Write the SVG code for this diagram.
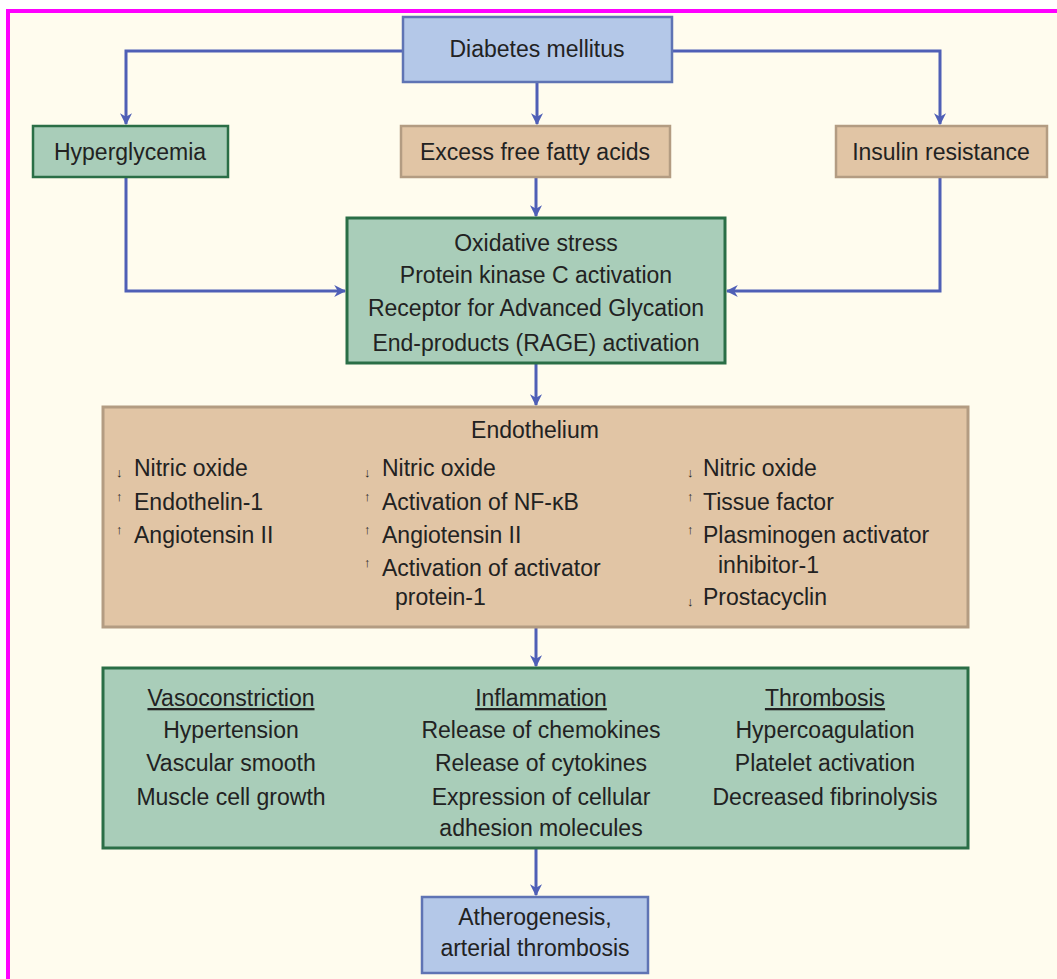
<svg xmlns="http://www.w3.org/2000/svg" width="1057" height="979" viewBox="0 0 1057 979">
<defs>
<style>
text{font-family:"Liberation Sans",Arial,sans-serif;font-size:23px;fill:#222;}
.c{text-anchor:middle;}
.blue{fill:#B4C8E8;stroke:#5F74B4;stroke-width:2.5;}
.green{fill:#A9CDB9;stroke:#2A6E46;stroke-width:3;}
.tan{fill:#E1C5A5;stroke:#B39C82;stroke-width:2.5;}
.ln{fill:none;stroke:#4F5FB6;stroke-width:3;}
.mk{font-size:13px;font-weight:bold;}
.u{text-decoration:underline;}
</style>
<marker id="ah" viewBox="0 0 10 10" refX="9" refY="5" markerWidth="4" markerHeight="4" orient="auto" markerUnits="strokeWidth">
<path d="M0,0 L10,5 L0,10 L3,5 Z" fill="#4F5FB6"/>
</marker>
</defs>
<rect x="0" y="0" width="1057" height="979" fill="#FFFFFF"/>
<rect x="8" y="11" width="1060" height="980" fill="#FFFCEE" stroke="#FF00FF" stroke-width="4"/>

<g id="connectors">
<path class="ln" d="M403,51 H126 V124" marker-end="url(#ah)"/>
<path class="ln" d="M672,51 H940 V124" marker-end="url(#ah)"/>
<path class="ln" d="M537,82 V124" marker-end="url(#ah)"/>
<path class="ln" d="M126,177 V291 H345" marker-end="url(#ah)"/>
<path class="ln" d="M940,177 V291 H727" marker-end="url(#ah)"/>
<path class="ln" d="M536,177 V216" marker-end="url(#ah)"/>
<path class="ln" d="M536,363 V405" marker-end="url(#ah)"/>
<path class="ln" d="M536,627 V666" marker-end="url(#ah)"/>
<path class="ln" d="M536,848 V895" marker-end="url(#ah)"/>
</g>

<g id="diabetes">
<rect class="blue" x="403" y="17" width="269" height="65"/>
<text class="c" x="537" y="57">Diabetes mellitus</text>
</g>

<g id="hyperglycemia">
<rect class="green" x="33" y="126" width="195" height="51" style="stroke-width:2.5"/>
<text class="c" x="130" y="160">Hyperglycemia</text>
</g>

<g id="ffa">
<rect class="tan" x="401" y="126" width="269" height="51"/>
<text class="c" x="535" y="160">Excess free fatty acids</text>
</g>

<g id="insulin">
<rect class="tan" x="836" y="126" width="211" height="51"/>
<text class="c" x="941" y="160">Insulin resistance</text>
</g>

<g id="oxidative">
<rect class="green" x="347" y="218" width="378" height="145"/>
<text class="c" x="536" y="251">Oxidative stress</text>
<text class="c" x="536" y="283">Protein kinase C activation</text>
<text class="c" x="536" y="316">Receptor for Advanced Glycation</text>
<text class="c" x="536" y="351">End-products (RAGE) activation</text>
</g>

<g id="endothelium">
<rect class="tan" x="103" y="407" width="865" height="220" style="stroke-width:3"/>
<text class="c" x="535" y="438">Endothelium</text>
<text class="mk" x="116" y="477">↓</text><text x="134" y="476">Nitric oxide</text>
<text class="mk" x="116" y="501">↑</text><text x="134" y="510">Endothelin-1</text>
<text class="mk" x="116" y="534">↑</text><text x="134" y="543">Angiotensin II</text>
<text class="mk" x="364" y="477">↓</text><text x="382" y="476">Nitric oxide</text>
<text class="mk" x="364" y="501">↑</text><text x="382" y="510">Activation of NF-κB</text>
<text class="mk" x="364" y="534">↑</text><text x="382" y="543">Angiotensin II</text>
<text class="mk" x="364" y="567">↑</text><text x="382" y="576">Activation of activator</text>
<text x="395" y="605">protein-1</text>
<text class="mk" x="687" y="477">↓</text><text x="703" y="476">Nitric oxide</text>
<text class="mk" x="687" y="501">↑</text><text x="703" y="510">Tissue factor</text>
<text class="mk" x="687" y="534">↑</text><text x="703" y="543">Plasminogen activator</text>
<text x="718" y="573">inhibitor-1</text>
<text class="mk" x="687" y="606">↓</text><text x="703" y="605">Prostacyclin</text>
</g>

<g id="effects">
<rect class="green" x="103" y="668" width="865" height="180"/>
<text class="c u" x="231" y="706">Vasoconstriction</text>
<text class="c" x="231" y="738">Hypertension</text>
<text class="c" x="231" y="771">Vascular smooth</text>
<text class="c" x="231" y="805">Muscle cell growth</text>
<text class="c u" x="541" y="706">Inflammation</text>
<text class="c" x="541" y="738">Release of chemokines</text>
<text class="c" x="541" y="771">Release of cytokines</text>
<text class="c" x="541" y="805">Expression of cellular</text>
<text class="c" x="541" y="836">adhesion molecules</text>
<text class="c u" x="825" y="706">Thrombosis</text>
<text class="c" x="825" y="738">Hypercoagulation</text>
<text class="c" x="825" y="771">Platelet activation</text>
<text class="c" x="825" y="805">Decreased fibrinolysis</text>
</g>

<g id="outcome">
<rect class="blue" x="422" y="897" width="226" height="76"/>
<text class="c" x="535" y="925">Atherogenesis,</text>
<text class="c" x="535" y="956">arterial thrombosis</text>
</g>
</svg>
